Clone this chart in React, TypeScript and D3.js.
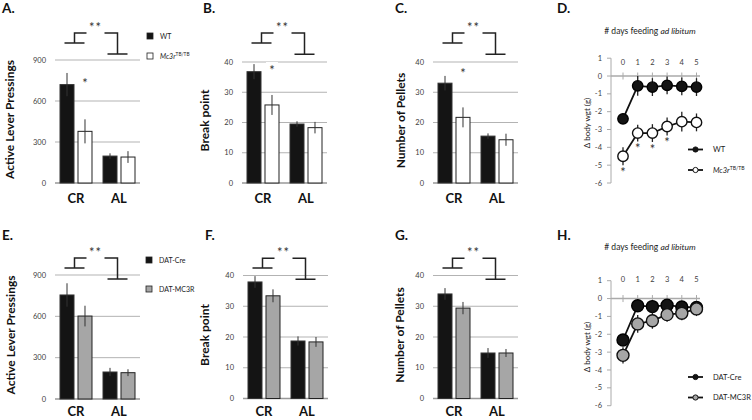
import React from "react";
import * as d3 from "d3";

// ---------- data ----------
const categories = ["CR", "AL"];
const leverTicks = [0, 300, 600, 900];
const scoreTicks = [0, 10, 20, 30, 40];
const days = [0, 1, 2, 3, 4, 5];
const weightTicks = [1, 0, -1, -2, -3, -4, -5, -6];

// Top row: WT vs Mc3r TB/TB
const leverWT = [720, 197];
const leverWTErr = [85, 20];
const leverMc3r = [378, 190];
const leverMc3rErr = [88, 43];
const breakWT = [36.8, 19.5];
const breakWTErr = [2.5, 0.9];
const breakMc3r = [25.8, 18.3];
const breakMc3rErr = [3.3, 1.9];
const pelletsWT = [33, 15.5];
const pelletsWTErr = [2.4, 0.9];
const pelletsMc3r = [21.7, 14.3];
const pelletsMc3rErr = [3.3, 2];

// Bottom row: DAT-Cre vs DAT-MC3R
const leverCre = [755, 196];
const leverCreErr = [85, 30];
const leverDatMc3r = [602, 191];
const leverDatMc3rErr = [75, 25];
const breakCre = [37.9, 18.7];
const breakCreErr = [1.9, 1.5];
const breakDatMc3r = [33.4, 18.4];
const breakDatMc3rErr = [2.1, 1.6];
const pelletsCre = [34, 14.8];
const pelletsCreErr = [1.9, 1.6];
const pelletsDatMc3r = [29.4, 14.8];
const pelletsDatMc3rErr = [2, 1.3];

// Body weight change per day of ad libitum feeding
const weightWT = [-2.4, -0.55, -0.62, -0.52, -0.58, -0.62];
const weightWTErr = [0.25, 0.55, 0.5, 0.5, 0.5, 0.5];
const weightMc3r = [-4.5, -3.2, -3.2, -2.83, -2.56, -2.6];
const weightMc3rErr = [0.5, 0.47, 0.5, 0.5, 0.55, 0.5];
const weightCre = [-2.32, -0.4, -0.45, -0.37, -0.47, -0.5];
const weightCreErr = [0.3, 0.35, 0.35, 0.35, 0.3, 0.3];
const weightDatMc3r = [-3.18, -1.42, -1.24, -0.9, -0.82, -0.58];
const weightDatMc3rErr = [0.45, 0.5, 0.45, 0.4, 0.4, 0.4];
const weightStarDays = [0, 1, 2, 3];

// ---------- styles ----------
const FONT = "Lato, 'Open Sans', sans-serif";
const BLACK = "#141414";
const GREY = "#a6a6a6";
const GRID = "#b3b3b3";
const TICK_TXT = "#404040";

function Mc3rLabel({ x, y, size }: any) {
  return (
    <text x={x} y={y} fontSize={size} fill="#222" fontFamily={FONT}>
      <tspan fontStyle="italic">Mc3r</tspan>
      <tspan fontSize={size * 0.68} dy={-size * 0.4}>TB/TB</tspan>
    </text>
  );
}

function BarPanel(p: any) {
  const outer = d3.scaleBand().domain(categories).range([p.left, p.left + 75]).paddingInner(0.256);
  const bw = outer.bandwidth();
  const inner = d3.scaleBand().domain(["a", "b"]).range([0, bw]).paddingInner(0.222);
  const y = d3.scaleLinear().domain([0, p.max]).range([p.bottom, p.top]);
  const seriesList = [
    { vals: p.a, errs: p.aErr, fill: BLACK, stroke: "#333", key: "a" },
    { vals: p.b, errs: p.bErr, fill: p.bFill, stroke: "#222", key: "b" },
  ];
  const cx1 = (outer("CR") as number) + bw / 2 - 1.5;
  const cx2 = (outer("AL") as number) + bw / 2 - 1.5;
  const yt = y(p.bracket[0]);
  const yl = y(p.bracket[1]);
  const yr = y(p.bracket[2]);
  const bracketPath = `M${cx1 - 10},${yl}H${cx1 + 10}M${cx1},${yl}V${yt}H${cx1 + 12}M${cx2 - 13},${yt}H${cx2}V${yr}M${cx2 - 10},${yr}H${cx2 + 10}`;
  const midX = (cx1 + 12 + cx2 - 13) / 2;
  return (
    <g>
      <text x={p.letterX} y={p.letterY} fontSize={13.5} fontWeight="bold" fontFamily={FONT} fill="#111">{p.letter}</text>
      {p.ticks.map((t: number) => (
        <g key={t}>
          <line x1={p.left - 5} x2={p.left + 80} y1={y(t)} y2={y(t)} stroke={t === 0 ? "#999" : GRID} strokeWidth={t === 0 ? 1.6 : 1} />
          <text x={p.left - 14} y={y(t) + 2.6} fontSize={7.5} textAnchor="end" fill={TICK_TXT} fontFamily={FONT}>{t}</text>
        </g>
      ))}
      <text transform={`translate(${p.titleX},${(p.top + p.bottom) / 2 - 2}) rotate(-90)`} dy="0.35em" fontSize={12} fontWeight="bold" textAnchor="middle" fontFamily={FONT} fill="#111">{p.title}</text>
      {seriesList.map((s) => (
        <g key={s.key}>
          {categories.map((c, i) => {
            const x = (outer(c) as number) + (inner(s.key) as number);
            const w = inner.bandwidth();
            return (
              <g key={c}>
                <rect x={x} y={y(s.vals[i])} width={w} height={y(0) - y(s.vals[i])} fill={s.fill} stroke={s.stroke} strokeWidth={1} />
                <line x1={x + w / 2} x2={x + w / 2} y1={y(s.vals[i] - s.errs[i])} y2={y(s.vals[i] + s.errs[i])} stroke="#333" strokeWidth={1} />
              </g>
            );
          })}
        </g>
      ))}
      {categories.map((c) => (
        <text key={c} x={(outer(c) as number) + bw / 2} y={p.bottom + p.catOffset} fontSize={13} fontWeight="bold" textAnchor="middle" fontFamily={FONT} fill="#111">{c}</text>
      ))}
      <path d={bracketPath} fill="none" stroke="#222" strokeWidth={1.5} />
      <text x={midX} y={yt - 1} fontSize={13} textAnchor="middle" fontFamily={FONT} fill="#333" letterSpacing={1}>**</text>
      {p.star != null && (
        <g>
          <rect x={(outer("CR") as number) + (inner("b") as number) + inner.bandwidth() / 2 - 6} y={y(p.star) - 6} width={12} height={12} fill="#fff" />
          <text x={(outer("CR") as number) + (inner("b") as number) + inner.bandwidth() / 2} y={y(p.star) + 7} fontSize={13} textAnchor="middle" fontFamily={FONT} fill="#333">*</text>
        </g>
      )}
    </g>
  );
}

function BarLegend({ x, y1, y2, fill2, label1, mc3r }: any) {
  return (
    <g>
      <rect x={x} y={y1} width={6} height={6} fill={BLACK} stroke="#222" strokeWidth={0.8} />
      <text x={x + 13} y={y1 + 6} fontSize={7} fill="#222" fontFamily={FONT}>{label1}</text>
      <rect x={x} y={y2} width={6} height={6} fill={fill2} stroke="#222" strokeWidth={0.8} />
      {mc3r ? <Mc3rLabel x={x + 13} y={y2 + 6} size={7} /> : <text x={x + 13} y={y2 + 6} fontSize={7} fill="#222" fontFamily={FONT}>DAT-MC3R</text>}
    </g>
  );
}

function LinePanel(p: any) {
  const x = d3.scaleLinear().domain([0, 5]).range([623, 696.5]);
  const y = d3.scaleLinear().domain([1, -6]).range([p.yTop, p.yBottom]);
  const line = d3.line<number>().x((_, i) => x(days[i])).y((d) => y(d));
  const series = [
    { vals: p.a, errs: p.aErr, fill: BLACK, stroke: "#000", key: "a" },
    { vals: p.b, errs: p.bErr, fill: p.bFill, stroke: "#111", key: "b" },
  ];
  return (
    <g fontFamily={FONT}>
      <text x={557} y={p.letterY} fontSize={13.5} fontWeight="bold" fill="#111">{p.letter}</text>
      <text x={650} y={p.titleY} fontSize={8.5} textAnchor="middle" fill="#222">
        # days feeding <tspan fontStyle="italic">ad libitum</tspan>
      </text>
      <line x1={611} x2={611} y1={y(1)} y2={y(-6)} stroke="#aaa" strokeWidth={1} />
      {weightTicks.map((t) => (
        <g key={t}>
          <line x1={607} x2={611} y1={y(t)} y2={y(t)} stroke="#aaa" strokeWidth={1} />
          <text x={602} y={y(t) + 2.6} fontSize={7.5} textAnchor="end" fill={TICK_TXT}>{t}</text>
        </g>
      ))}
      <line x1={611} x2={700} y1={y(0)} y2={y(0)} stroke="#aaa" strokeWidth={1.5} />
      {days.map((d) => (
        <g key={d}>
          <line x1={x(d)} x2={x(d)} y1={y(0) - 3.5} y2={y(0) + 3.5} stroke="#aaa" strokeWidth={1} />
          <text x={x(d)} y={p.dayLabelY} fontSize={7.5} textAnchor="middle" fill={TICK_TXT}>{d}</text>
        </g>
      ))}
      <text transform={`translate(587,${p.yLabelY}) rotate(-90)`} dy="0.35em" fontSize={8} textAnchor="middle" fill="#222">Δ body wgt (g)</text>
      {series.map((s) => (
        <g key={s.key}>
          <path d={line(s.vals) || ""} fill="none" stroke="#111" strokeWidth={1.8} />
          {s.vals.map((v: number, i: number) => (
            <line key={"e" + i} x1={x(days[i])} x2={x(days[i])} y1={y(v - s.errs[i])} y2={y(v + s.errs[i])} stroke="#222" strokeWidth={1.3} />
          ))}
          {s.vals.map((v: number, i: number) => (
            <circle key={"c" + i} cx={x(days[i])} cy={y(v)} r={p.r} fill={s.fill} stroke={s.stroke} strokeWidth={1.4} />
          ))}
        </g>
      ))}
      {p.stars && p.stars.map((d: number) => (
        <text key={d} x={x(d)} y={y(p.b[d] - p.bErr[d]) + 12} fontSize={13} textAnchor="middle" fill="#333">*</text>
      ))}
      {[0, 1].map((k) => {
        const ly = p.legendY + k * 20.5;
        return (
          <g key={k}>
            <line x1={688} x2={703} y1={ly} y2={ly} stroke="#111" strokeWidth={1.8} />
            <circle cx={695.5} cy={ly} r={2.6} fill={k === 0 ? BLACK : p.bFill} stroke="#111" strokeWidth={1} />
            {k === 0 ? (
              <text x={713} y={ly + 2.6} fontSize={7.5} fill="#222">{p.labelA}</text>
            ) : p.mc3r ? (
              <Mc3rLabel x={713} y={ly + 2.6} size={7.5} />
            ) : (
              <text x={713} y={ly + 2.6} fontSize={7.5} fill="#222">{p.labelB}</text>
            )}
          </g>
        );
      })}
    </g>
  );
}

export default function App() {
  return (
    <svg width={752} height={420} style={{ position: "absolute", left: 0, top: 0, background: "#fff" }} fontFamily={FONT}>
      <rect width={752} height={420} fill="#fff" />
      {/* Top row */}
      <BarPanel letter="A." letterX={2} letterY={13} left={60} bottom={183} top={60} max={900} ticks={leverTicks} catOffset={20}
        title="Active Lever Pressings" titleX={10} a={leverWT} aErr={leverWTErr} b={leverMc3r} bErr={leverMc3rErr}
        bFill="#fff" bracket={[1098, 1024, 944]} star={750} />
      <BarLegend x={147} y1={33} y2={53} fill2="#fff" label1="WT" mc3r />
      <BarPanel letter="B." letterX={203} letterY={13} left={247} bottom={183} top={62} max={40} ticks={scoreTicks} catOffset={20}
        title="Break point" titleX={205} a={breakWT} aErr={breakWTErr} b={breakMc3r} bErr={breakMc3rErr}
        bFill="#fff" bracket={[49.6, 46.3, 42.6]} star={38} />
      <BarPanel letter="C." letterX={395} letterY={13} left={438} bottom={183} top={62} max={40} ticks={scoreTicks} catOffset={20}
        title="Number of Pellets" titleX={401} a={pelletsWT} aErr={pelletsWTErr} b={pelletsMc3r} bErr={pelletsMc3rErr}
        bFill="#fff" bracket={[49.6, 46.3, 42.6]} star={37} />
      <LinePanel letter="D." letterY={13} titleY={34} yTop={58.2} yBottom={183} dayLabelY={65} yLabelY={123}
        a={weightWT} aErr={weightWTErr} b={weightMc3r} bErr={weightMc3rErr} bFill="#fff" r={5.2}
        stars={weightStarDays} legendY={149.5} labelA="WT" mc3r />
      {/* Bottom row */}
      <BarPanel letter="E." letterX={2} letterY={240} left={60} bottom={399} top={275} max={900} ticks={leverTicks} catOffset={17}
        title="Active Lever Pressings" titleX={10.5} a={leverCre} aErr={leverCreErr} b={leverDatMc3r} bErr={leverDatMc3rErr}
        bFill={GREY} bracket={[1024, 951, 871]} />
      <BarLegend x={146} y1={257} y2={286} fill2={GREY} label1="DAT-Cre" />
      <BarPanel letter="F." letterX={205} letterY={240} left={248} bottom={398.5} top={275.5} max={40} ticks={scoreTicks} catOffset={17.5}
        title="Break point" titleX={205} a={breakCre} aErr={breakCreErr} b={breakDatMc3r} bErr={breakDatMc3rErr}
        bFill={GREY} bracket={[45.6, 42.4, 38.8]} />
      <BarPanel letter="G." letterX={395} letterY={240} left={438} bottom={398.5} top={275.5} max={40} ticks={scoreTicks} catOffset={17.5}
        title="Number of Pellets" titleX={400} a={pelletsCre} aErr={pelletsCreErr} b={pelletsDatMc3r} bErr={pelletsDatMc3rErr}
        bFill={GREY} bracket={[45.6, 42.4, 38.8]} />
      <LinePanel letter="H." letterY={240} titleY={250} yTop={280.7} yBottom={405.7} dayLabelY={282} yLabelY={347}
        a={weightCre} aErr={weightCreErr} b={weightDatMc3r} bErr={weightDatMc3rErr} bFill={GREY} r={6}
        legendY={377} labelA="DAT-Cre" labelB="DAT-MC3R" />
    </svg>
  );
}
